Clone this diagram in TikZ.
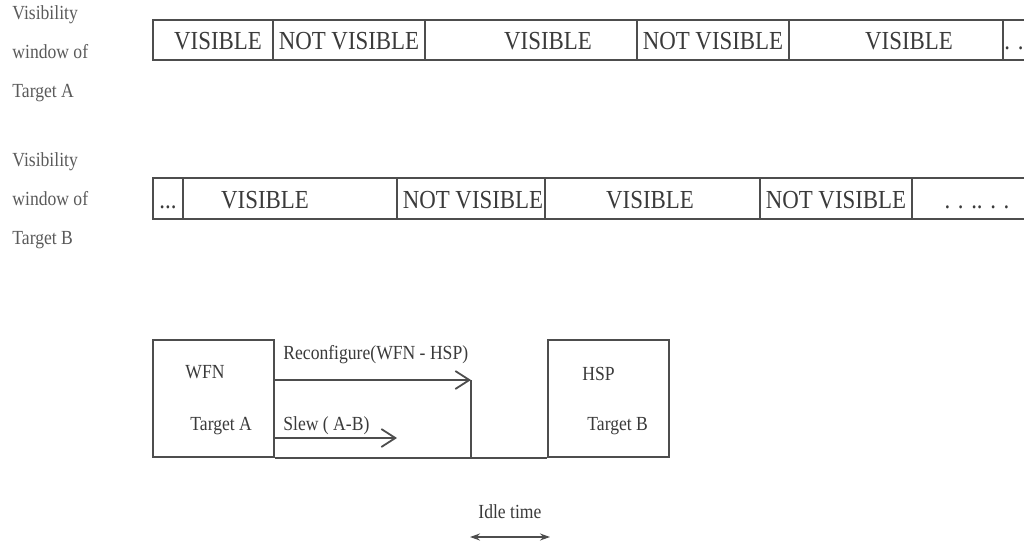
\documentclass[tikz,border=0pt]{standalone}
\usepackage{fontspec}
\setmainfont{Liberation Serif}[FakeStretch=0.88]
\usepackage{tikz}
\usetikzlibrary{arrows.meta,positioning}
\definecolor{cline}{HTML}{4D4D4D}
\definecolor{cink}{HTML}{3A3A3A}
\definecolor{clabel}{HTML}{5A5A5A}
\tikzset{
  seg/.style={draw=cline,line width=1pt},
  win/.style={font=\fontsize{13}{15}\selectfont,text=cink,inner sep=0pt,anchor=base},
  side/.style={font=\fontsize{10}{19.5}\selectfont,text=clabel,align=left,inner sep=0pt,anchor=north west},
  tag/.style={font=\fontsize{10}{12}\selectfont,text=cink,inner sep=0pt,anchor=base west},
  task/.style={draw=cline,line width=1pt,minimum width=60.5pt,minimum height=58.5pt,inner sep=0pt},
  wire/.style={draw=cline,line width=0.9pt},
  barb/.style={wire,-{Straight Barb[length=7pt,width=9pt]}},
}

\begin{document}
\begin{tikzpicture}[x=0.5pt,y=-0.5pt]
\useasboundingbox (0,0) rectangle (1024,546);

% side labels
\node[side] (labA) at (12,5) {Visibility\\window of\\Target A};
\node[side] (labB) at (12,152) {Visibility\\window of\\Target B};

% visibility windows of target A
\foreach \l/\r/\c/\s [count=\i] in {153/273/218/VISIBLE,273/425/349/NOT VISIBLE,
    425/637/548/VISIBLE,637/789/713/NOT VISIBLE,789/1003/909/VISIBLE,1003/1030/1014/. .}
{
  \draw[seg] (\l,20) rectangle (\r,60);
  \node[win] (a\i) at (\c,49) {\s};
}

% visibility windows of target B
\foreach \l/\r/\c/\s [count=\i] in {153/183/168/.{}.{}.,183/397/265/VISIBLE,397/545/473/NOT VISIBLE,
    545/760/650/VISIBLE,760/912/836/NOT VISIBLE,912/1030/977/. . .. . .}
{
  \draw[seg] (\l,178) rectangle (\r,219);
  \node[win] (b\i) at (\c,208) {\s};
}

% schedule
\node[task] (wfn) at (213,398.5) {};
\node[task] (hsp) at (608,398.5) {};
\node[tag] (wfnname) at (185,378) {WFN};
\node[tag] (wfntgt) at (190,430) {Target A};
\node[tag] (hspname) at (582,380) {HSP};
\node[tag] (hsptgt) at (587,430) {Target B};
\node[tag] (reconf) at (283,359) {Reconfigure(WFN - HSP)};
\node[tag] (slew) at (283,430) {Slew ( A-B)};
\node[tag] (idle) at (478,518) {Idle time};

\coordinate (rcend) at (471,380);
\coordinate (slend) at (397,438);
\draw[barb] (wfn.east |- rcend) -- (rcend);
\draw[wire] (rcend) -- (rcend |- wfn.south);
\draw[barb] (wfn.east |- slend) -- (slend);
\draw[wire] (wfn.south east) -- (hsp.south west);

\coordinate (idl) at (470,537);
\coordinate (idr) at (550,537);
\draw[wire,{Stealth[length=5pt,width=3.5pt]}-{Stealth[length=5pt,width=3.5pt]}] (idl) -- (idr);

\end{tikzpicture}
\end{document}
